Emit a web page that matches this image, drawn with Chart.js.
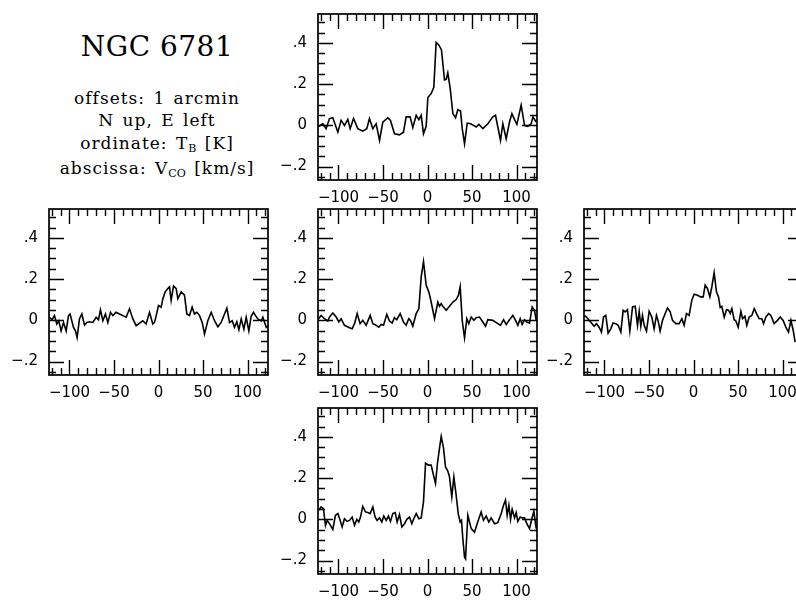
<!DOCTYPE html>
<html>
<head>
<meta charset="utf-8">
<script src="https://cdn.jsdelivr.net/npm/chart.js@4.4.1/dist/chart.umd.min.js"></script>
<style>
html,body{margin:0;padding:0;background:#fff;width:796px;height:601px;overflow:hidden;position:relative}
canvas{position:absolute}
.txt{position:absolute;left:37px;width:240px;text-align:center;color:#000;font-family:"DejaVu Serif",serif;white-space:nowrap}
.title{font-size:28px;line-height:30px;top:32px;letter-spacing:0.5px}
.info{font-size:17px;line-height:22.4px;top:87px;letter-spacing:1px;word-spacing:2px}
.sub{font-size:11px;position:relative;top:3px;letter-spacing:0}
</style>
</head>
<body>
<div class="txt title">NGC 6781</div>
<div class="txt info">offsets: 1 arcmin<br>N up, E left<br>ordinate: T<span class="sub">B</span> [K]<br>abscissa: V<span class="sub">CO</span> [km/s]</div>
<canvas id="cN" width="272" height="204" style="left:273px;top:6px"></canvas>
<canvas id="cE" width="272" height="204" style="left:4px;top:201px"></canvas>
<canvas id="cC" width="272" height="204" style="left:273px;top:201px"></canvas>
<canvas id="cW" width="272" height="204" style="left:539px;top:201px"></canvas>
<canvas id="cS" width="272" height="204" style="left:273px;top:400px"></canvas>
<script>
// ---- tick values and labels ----
const X_TICKS = [-100, -50, 0, 50, 100];
const X_LABELS = ['\u2212100', '\u221250', '0', '50', '100'];
const X_MINOR = [-120,-110,-100,-90,-80,-70,-60,-50,-40,-30,-20,-10,0,10,20,30,40,50,60,70,80,90,100,110,120];
const Y_TICKS = [-0.2, 0, 0.2, 0.4];
const Y_LABELS = ['\u2212.2', '0', '.2', '.4'];
const Y_MINOR = [-0.25,-0.2,-0.15,-0.1,-0.05,0,0.05,0.1,0.15,0.2,0.25,0.3,0.35,0.4,0.45,0.5];
const X_RANGE = [-123, 123];
const Y_RANGE = [-0.265, 0.54];

// ---- spectra: velocity (km/s) and T_B (K) ----
// top (north)
const V_N = [-123.2,-117.6,-113.9,-110.1,-106.4,-100.7,-97.0,-93.3,-89.5,-86.9,-83.1,-78.3,-72.7,-68.2,-65.2,-61.4,-57.7,-53.9,-50.2,-44.6,-41.6,-37.1,-31.5,-27.0,-24.0,-19.5,-16.5,-12.7,-9.7,-7.1,-4.5,-1.5,0.4,4.1,7.1,9.7,12.7,15.7,19.1,21.0,22.8,25.5,28.5,31.5,34.1,37.1,39.0,41.6,44.6,48.3,51.7,54.7,57.7,62.2,67.8,73.4,76.4,79.0,82.0,84.6,88.4,92.1,94.8,97.8,100.4,105.2,109.0,112.7,116.5,118.4,122.1];
const T_N = [-0.008,0.008,-0.016,0.033,0.037,-0.033,0.024,0,0.029,-0.016,0.033,-0.016,-0.028,-0.016,0.033,-0.016,0.008,-0.073,0.016,0.037,0.024,-0.041,-0.046,-0.033,0.041,0.041,-0.011,0.049,0.028,0.049,-0.041,-0.005,0.135,0.154,0.184,0.402,0.390,0.366,0.220,0.223,0.255,0.179,0.057,0.037,0.076,0.070,-0.016,-0.089,0.011,0.008,0,-0.008,0.005,-0.016,0.008,0.041,0.049,-0.008,-0.073,0.008,-0.065,0.016,0.057,0.028,0.005,0.098,0,-0.005,0.008,0.041,0.016];
// middle left (east)
const V_E = [-122.5,-119.5,-116.9,-114.2,-112.0,-109.4,-106.7,-103.7,-101.1,-99.3,-95.5,-93.3,-91.4,-88.8,-86.1,-83.1,-80.5,-77.5,-73.8,-70.0,-67.4,-65.2,-62.5,-59.6,-56.9,-53.9,-51.3,-47.6,-43.8,-40.1,-36.3,-32.6,-28.8,-25.1,-21.3,-17.6,-13.9,-10.1,-6.4,-4.5,-2.6,0,3.0,4.9,7.5,10.5,12.4,14.2,16.9,19.9,21.7,25.5,29.2,31.8,34.8,37.8,40.4,43.1,46.1,49.1,51.7,55.4,59.2,62.9,66.7,70.4,74.2,76.8,79.8,82.8,85.4,88.0,90.3,92.9,95.9,98.5,101.5,104.1,106.7,109.0,111.6,115.4,117.2,121.0,122.8];
const T_E = [0.015,0.003,0.023,-0.018,-0.002,-0.051,-0.01,-0.051,0.023,0.031,-0.034,-0.051,-0.084,0.007,0.031,-0.023,-0.01,-0.007,-0.01,0.015,0.003,0.051,-0.002,0.031,-0.01,0.039,0.023,0.039,0.031,0.023,0.015,0.056,0.007,-0.026,-0.013,-0.002,-0.018,0.039,-0.018,-0.01,0.023,0.072,0.064,0.105,0.138,0.154,0.163,0.097,0.167,0.154,0.105,0.138,0.122,0.031,0.023,0.064,0.031,0.039,0.023,-0.01,-0.067,-0.002,0.039,-0.002,-0.031,-0.01,0.031,0.059,-0.01,-0.002,-0.034,-0.007,-0.046,0.007,-0.043,0.015,-0.051,0.02,0.039,0.023,0.007,-0.002,0.015,-0.034,-0.026];
// centre
const V_C = [-123.2,-119.5,-115.7,-112.0,-110.1,-106.4,-102.6,-99.6,-97.0,-93.3,-87.6,-84.6,-82.0,-79.0,-75.7,-72.7,-68.9,-64.4,-61.4,-57.7,-54.7,-52.1,-49.4,-45.7,-42.7,-39.7,-37.1,-34.5,-30.7,-27.0,-24.0,-21.0,-19.1,-16.5,-12.7,-9.7,-7.1,-4.5,-1.5,1.5,4.1,7.9,11.6,13.5,15.4,17.2,21.0,24.7,28.5,32.2,34.8,36.7,39.0,41.6,44.2,46.4,49.1,52.1,54.7,58.4,62.2,65.2,67.8,73.4,79.0,82.0,85.4,88.4,92.1,95.9,98.9,101.5,104.1,106.4,109.0,111.6,114.6,117.6,120.2,122.1];
const T_C = [0.003,0.024,0.008,-0.003,0.016,0.036,0.016,-0.008,0.008,-0.024,-0.036,-0.041,-0.016,0.033,-0.016,0,-0.024,0.024,-0.016,-0.024,-0.033,-0.02,-0.024,0.029,-0.003,-0.013,0.013,0.003,0.033,-0.008,-0.024,0.008,0,-0.028,0.033,0.057,0.211,0.285,0.171,0.138,0.089,0.008,0.089,0.068,0.081,0.068,0.049,0.068,0.089,0.101,0.122,0.163,0,-0.085,0.008,-0.016,0.016,0,0.013,0.016,-0.008,-0.028,0.003,0,-0.016,-0.024,0.003,-0.02,0.003,0.024,0,-0.024,0.008,-0.02,0.003,-0.008,-0.013,0.065,0.049,0];
// middle right (west)
const V_W = [-122.8,-120.2,-117.2,-114.6,-111.6,-109.0,-106.0,-103.4,-101.1,-98.5,-95.9,-92.9,-90.3,-87.3,-84.6,-81.6,-79.0,-76.8,-74.2,-71.5,-68.5,-65.5,-62.9,-61.0,-59.2,-57.3,-55.4,-52.8,-49.8,-46.8,-44.2,-41.6,-39.7,-37.5,-34.8,-31.8,-29.2,-26.2,-23.6,-19.9,-16.1,-13.1,-10.5,-7.9,-4.9,-1.9,0.7,4.5,8.2,10.9,13.1,15.7,18.4,20.6,23.2,25.8,28.1,30.0,31.8,34.5,37.1,39.3,41.2,43.1,45.7,47.6,50.2,53.2,55.1,57.7,59.9,62.5,65.5,68.2,70.8,73.8,76.8,78.7,81.3,84.3,86.9,90.6,94.4,97.4,100.7,103.7,106.7,109.4,112.0,114.2];
const T_W = [0.024,0.016,0,-0.013,-0.029,-0.016,-0.033,-0.057,0.016,0.024,-0.062,-0.041,-0.013,-0.016,-0.024,-0.057,0.049,0.041,0.052,-0.052,0.065,0.068,-0.024,0.044,-0.029,0.024,-0.024,-0.052,0.044,0.016,-0.041,0.024,-0.003,-0.052,0,0.033,0.06,0.041,0,-0.016,-0.016,0.008,-0.024,0.033,0.024,0.098,0.127,0.122,0.114,0.114,0.171,0.154,0.114,0.163,0.231,0.138,0.114,0.062,0.068,0.016,0.052,0.049,0.033,0.057,0.003,-0.003,-0.033,0.044,0.008,0.02,-0.024,0.016,0.024,0.057,0.033,0.008,0.008,-0.016,0.016,0.033,0.024,-0.016,0,0.016,0,-0.033,-0.057,0,-0.049,-0.106];
// bottom (south)
const V_S = [-122.1,-119.5,-116.9,-114.6,-112.7,-110.1,-106.4,-103.4,-100.7,-98.1,-95.9,-93.3,-90.3,-87.6,-84.6,-82.0,-79.4,-77.2,-75.3,-72.7,-69.7,-67.0,-64.4,-61.4,-58.8,-56.6,-53.9,-51.3,-49.1,-46.4,-43.8,-41.6,-39.0,-36.3,-34.1,-31.5,-28.8,-25.8,-23.2,-20.2,-17.6,-15.4,-12.7,-9.7,-7.1,-4.5,-2.2,1.1,4.1,6.7,9.0,11.2,13.5,15.4,18.0,20.2,22.8,24.7,27.3,29.6,32.2,34.5,36.7,38.2,39.7,41.6,42.7,45.3,49.1,52.8,56.6,60.3,62.9,65.9,68.9,71.5,75.3,79.0,82.8,85.4,87.6,89.5,91.4,93.3,95.1,97.8,99.6,101.5,104.1,106.4,109.0,111.6,114.6,117.2,119.5,122.1];
const T_S = [0.044,0.06,0.052,-0.029,-0.005,-0.021,-0.049,0.02,0.028,-0.005,-0.037,0.003,-0.01,-0.005,0.011,-0.029,0,-0.013,0.011,0.063,0.036,0.033,0.028,0.06,0.011,-0.005,0.007,-0.013,0.016,-0.005,0.016,-0.01,0.028,0.033,-0.013,0.023,-0.037,-0.021,0,0.011,-0.021,0.003,0.028,0.003,0.007,0.085,0.272,0.263,0.263,0.215,0.174,0.272,0.345,0.402,0.345,0.255,0.234,0.206,0.109,0.206,0.117,0.028,-0.013,-0.005,-0.094,-0.184,-0.192,0.02,-0.045,-0.062,-0.01,0.036,-0.005,0.016,-0.013,0.007,-0.021,-0.016,0.028,0.068,0.093,0.02,0.068,0,0.049,0.007,0.033,-0.01,0.011,0.007,0.007,-0.021,-0.045,0.003,0.039,-0.045];

Chart.defaults.font.family = '"DejaVu Sans", sans-serif';
Chart.defaults.font.size = 15;
Chart.defaults.color = '#000';

const frameTicks = {
  id: 'frameTicks',
  afterDatasetsDraw(chart) {
    const {ctx, chartArea: a, scales: {x, y}} = chart;
    const MAJ = 15, MIN = 7;
    ctx.save();
    ctx.strokeStyle = '#000';
    ctx.lineWidth = 1.4;
    ctx.beginPath();
    X_MINOR.forEach(v => {
      const px = Math.round(x.getPixelForValue(v)) + 0.5;
      const len = X_TICKS.includes(v) ? MAJ : MIN;
      ctx.moveTo(px, a.bottom); ctx.lineTo(px, a.bottom - len);
      ctx.moveTo(px, a.top); ctx.lineTo(px, a.top + len);
    });
    Y_MINOR.forEach(v => {
      const py = Math.round(y.getPixelForValue(v)) + 0.5;
      const len = Y_TICKS.some(t => Math.abs(t - v) < 1e-9) ? MAJ : MIN;
      ctx.moveTo(a.left, py); ctx.lineTo(a.left + len, py);
      ctx.moveTo(a.right, py); ctx.lineTo(a.right - len, py);
    });
    ctx.stroke();
    ctx.lineWidth = 1.7;
    ctx.strokeRect(a.left, a.top, a.right - a.left, a.bottom - a.top);
    ctx.restore();
  }
};

function makePanel(id, vel, tb) {
  const n = Math.min(vel.length, tb.length);
  const pts = [];
  for (let i = 0; i < n; i++) pts.push({x: vel[i], y: tb[i]});
  new Chart(document.getElementById(id), {
    type: 'line',
    data: {datasets: [{data: pts, borderColor: '#000', borderWidth: 1.6, pointRadius: 0, tension: 0, fill: false}]},
    options: {
      responsive: false, animation: false, devicePixelRatio: 1,
      layout: {padding: {top: 8, right: 8, left: 0, bottom: 0}},
      plugins: {legend: {display: false}, tooltip: {enabled: false}},
      scales: {
        x: {
          type: 'linear', min: X_RANGE[0], max: X_RANGE[1],
          grid: {display: false, drawTicks: false}, border: {display: false},
          afterBuildTicks: ax => { ax.ticks = X_TICKS.map(v => ({value: v})); },
          afterFit: ax => { ax.height = 30; ax.paddingLeft = 0; ax.paddingRight = 0; },
          ticks: {padding: 9, maxRotation: 0, autoSkip: false,
            callback: (v, i) => X_LABELS[X_TICKS.indexOf(v)]}
        },
        y: {
          type: 'linear', min: Y_RANGE[0], max: Y_RANGE[1],
          grid: {display: false, drawTicks: false}, border: {display: false},
          afterBuildTicks: ax => { ax.ticks = Y_TICKS.map(v => ({value: v})); },
          afterFit: ax => { ax.width = 45; ax.paddingTop = 0; ax.paddingBottom = 0; },
          ticks: {padding: 11, autoSkip: false,
            callback: (v, i) => Y_LABELS[i]}
        }
      }
    },
    plugins: [frameTicks]
  });
}

makePanel('cN', V_N, T_N);
makePanel('cE', V_E, T_E);
makePanel('cC', V_C, T_C);
makePanel('cW', V_W, T_W);
makePanel('cS', V_S, T_S);
</script>
</body>
</html>
